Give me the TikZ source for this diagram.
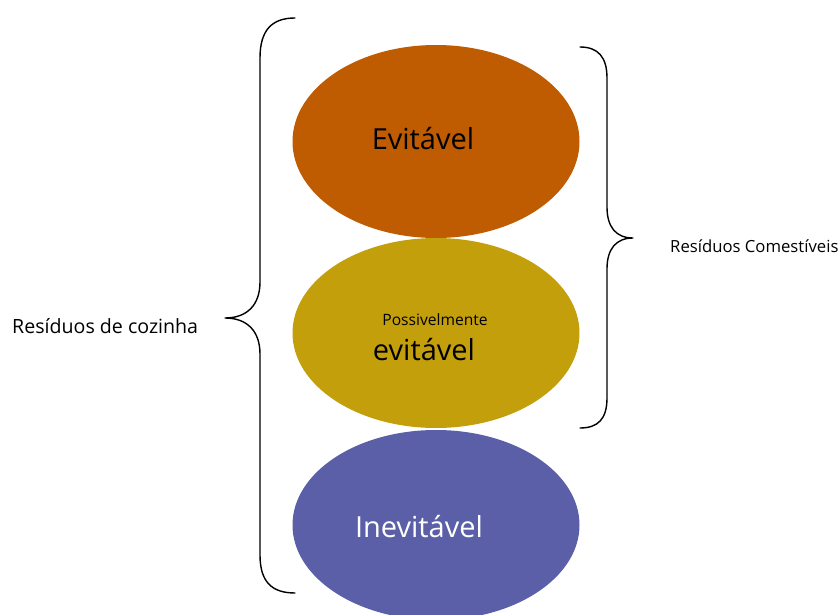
\documentclass[tikz,border=0pt]{standalone}
\usepackage{fontspec}
\setmainfont{Open Sans}
\usepackage{xcolor}
\usetikzlibrary{shapes.geometric}

\definecolor{evitcol}{RGB}{191,91,0}
\definecolor{posscol}{RGB}{196,159,12}
\definecolor{inevcol}{RGB}{90,95,168}

\tikzset{
  blob/.style={ellipse, minimum width=287pt, minimum height=193pt, inner sep=0pt},
  brc/.style={line width=1.4pt, line cap=round, line join=round},
  big/.style={font=\fontsize{29}{32}\selectfont},
}

\begin{document}
\begin{tikzpicture}[x=1pt,y=-1pt]
\useasboundingbox (0,0) rectangle (839,615);
\clip (0,0) rectangle (839,615);
\def\cx{436}   % column of the three ellipses
% the three classes, stacked
\node[blob, fill=evitcol] (evit) at (\cx,141.5) {};
\node[blob, fill=posscol, minimum height=190pt] (poss) at (\cx,333) {};
\node[blob, fill=inevcol, minimum height=190pt] (inev) at (\cx,525) {};
\node[big] (evittxt) at (423,139) {Evitável};
\node (posstxt) at (435,320) {\fontsize{15.6}{17}\selectfont Possivelmente};
\node[big] (poss2txt) at (424,350) {evitável};
\node[big, text=white] (inevtxt) at (419,527) {Inevitável};
% braces
\draw[brc] (295,18) .. controls (272,18) and (260,30) .. (260,58) -- (260,282)
  .. controls (260,305) and (247,318) .. (225,318)
  .. controls (247,318) and (260,331) .. (260,354) -- (260,555)
  .. controls (260,582) and (272,593) .. (295,593);
\draw[brc] (580,47) .. controls (598,47) and (607,57) .. (607,78) -- (607,207)
  .. controls (607,227) and (616,238) .. (633,238)
  .. controls (616,238) and (607,249) .. (607,269) -- (607,398)
  .. controls (607,419) and (598,428) .. (580,428);
\node[anchor=west, inner sep=0pt] (cozinha) at (12,326) {\fontsize{19.6}{22}\selectfont Resíduos de cozinha};
\node[anchor=west, inner sep=0pt] (comest) at (670,246) {\fontsize{16.7}{19}\selectfont Resíduos Comestíveis};
\end{tikzpicture}
\end{document}
